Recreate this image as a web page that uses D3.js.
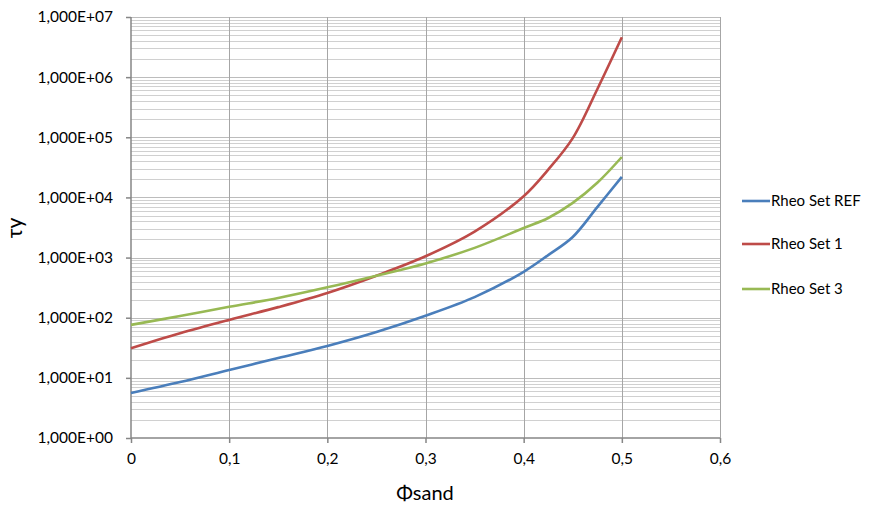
<!DOCTYPE html>
<html>
<head>
<meta charset="utf-8">
<script src="https://cdn.jsdelivr.net/npm/d3@7"></script>
<style>
  html, body { margin: 0; padding: 0; background: #fff; }
  svg { display: block; font-family: Lato, "Open Sans", sans-serif; }
</style>
</head>
<body>
<svg id="chart" width="870" height="506"></svg>
<script>
// Volume fraction of sand
const phiSand = [0, 0.05, 0.1, 0.15, 0.2, 0.25, 0.3, 0.35, 0.4, 0.425, 0.45, 0.475, 0.5];

// Yield stress per rheology set
const rheoSetRef = [5.6, 8.5, 13.5, 21.4, 34, 58, 108, 220, 580, 1100, 2200, 6900, 22000];
const rheoSet1   = [31, 55, 92, 150, 258, 500, 1050, 2700, 10500, 29000, 97000, 630000, 4600000];
const rheoSet3   = [76, 107, 152, 213, 320, 500, 800, 1450, 3100, 4550, 8100, 17500, 47000];

const seriesNames = ["Rheo Set REF", "Rheo Set 1", "Rheo Set 3"];
const seriesColors = ["#4A7EBB", "#BE4B48", "#98B954"];

const xTicks = [0, 0.1, 0.2, 0.3, 0.4, 0.5, 0.6];
const yTicks = [1, 1e1, 1e2, 1e3, 1e4, 1e5, 1e6, 1e7];

const svg = d3.select("#chart");
const plot = { left: 131, right: 720, top: 17, bottom: 438 };

const x = d3.scaleLinear().domain([0, 0.6]).range([plot.left, plot.right]);
const y = d3.scaleLog().domain([1, 1e7]).range([plot.bottom, plot.top]);

const fmtX = v => v === 0 ? "0" : d3.format(".1f")(v).replace(".", ",");
const fmtY = v => {
  const e = Math.round(Math.log10(v));
  return "1,000E+" + String(e).padStart(2, "0");
};

// Minor horizontal gridlines (2..9 within each decade)
const minorY = [];
for (let d = 0; d < 7; d++) for (let m = 2; m <= 9; m++) minorY.push(m * Math.pow(10, d));

const grid = svg.append("g");
grid.selectAll("line.minor").data(minorY).join("line")
  .attr("class", "minor")
  .attr("x1", plot.left).attr("x2", plot.right)
  .attr("y1", d => Math.round(y(d)) + 0.5).attr("y2", d => Math.round(y(d)) + 0.5)
  .attr("stroke", "#d0d0d0").attr("stroke-width", 1);

grid.selectAll("line.majorY").data(yTicks.slice(1)).join("line")
  .attr("class", "majorY")
  .attr("x1", plot.left).attr("x2", plot.right)
  .attr("y1", d => Math.round(y(d)) + 0.5).attr("y2", d => Math.round(y(d)) + 0.5)
  .attr("stroke", "#bcbcbc").attr("stroke-width", 1);

grid.selectAll("line.majorX").data(xTicks.slice(1)).join("line")
  .attr("class", "majorX")
  .attr("x1", d => Math.round(x(d)) + 0.5).attr("x2", d => Math.round(x(d)) + 0.5)
  .attr("y1", plot.top).attr("y2", plot.bottom)
  .attr("stroke", "#a6a6a6").attr("stroke-width", 1);

// Axes
const xAxis = d3.axisBottom(x).tickValues(xTicks).tickFormat(fmtX).tickSize(5).tickPadding(10);
const yAxis = d3.axisLeft(y).tickValues(yTicks).tickFormat(fmtY).tickSize(5).tickPadding(13);

const gx = svg.append("g").attr("transform", `translate(0,${plot.bottom})`).call(xAxis);
const gy = svg.append("g").attr("transform", `translate(${plot.left},0)`).call(yAxis);

[gx, gy].forEach(g => {
  g.select(".domain").attr("stroke", "#868686").attr("stroke-width", 1.5);
  g.selectAll(".tick line").attr("stroke", "#868686").attr("stroke-width", 1.5);
  g.selectAll(".tick text").attr("fill", "#000").style("font-size", "15.5px")
    .style("font-family", "Lato, 'Open Sans', sans-serif");
});
gx.select(".domain").attr("d", `M${plot.left},0H${plot.right}`);
gy.select(".domain").attr("d", `M0,${plot.bottom}V${plot.top}`);

// Series lines
const allSeries = [rheoSetRef, rheoSet1, rheoSet3];
const line = d3.line()
  .x((d, i) => x(phiSand[i]))
  .y(d => y(d))
  .curve(d3.curveCatmullRom.alpha(0.5));

svg.append("g").selectAll("path").data(allSeries).join("path")
  .attr("d", d => line(d))
  .attr("fill", "none")
  .attr("stroke", (d, i) => seriesColors[i])
  .attr("stroke-width", 2.6)
  .attr("stroke-linejoin", "round");

// Axis titles
svg.append("text")
  .attr("x", 425).attr("y", 500)
  .attr("text-anchor", "middle")
  .style("font-size", "20px")
  .text("Φsand");

svg.append("text")
  .attr("transform", "translate(22,228) rotate(-90)")
  .attr("text-anchor", "middle")
  .style("font-size", "21px")
  .text("τy");

// Legend
const legend = svg.append("g");
const legendY = [201, 244, 289];
seriesNames.forEach((name, i) => {
  legend.append("line")
    .attr("x1", 742).attr("x2", 770)
    .attr("y1", legendY[i]).attr("y2", legendY[i])
    .attr("stroke", seriesColors[i]).attr("stroke-width", 2.6);
  legend.append("text")
    .attr("x", 771).attr("y", legendY[i])
    .attr("dy", "0.35em")
    .style("font-size", "15px")
    .text(name);
});
</script>
</body>
</html>
